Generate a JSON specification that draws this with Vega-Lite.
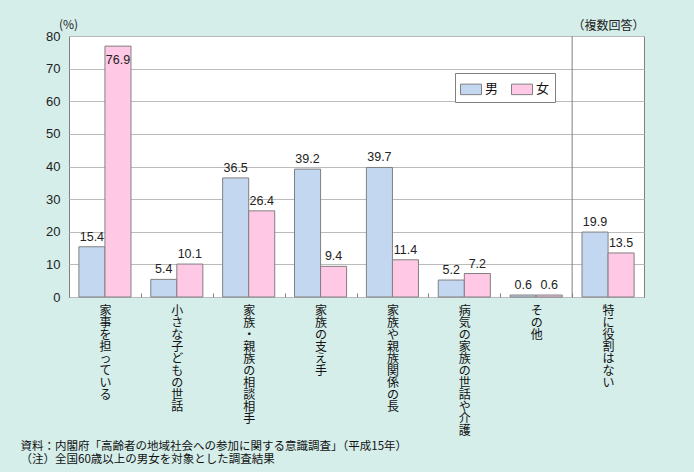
{
  "$schema": "https://vega.github.io/schema/vega-lite/v6.json",
  "width": 575,
  "height": 261,
  "autosize": {"type": "none"},
  "padding": {"left": 69, "top": 36, "right": 50, "bottom": 175},
  "background": "#d5eeea",
  "config": {
    "view": {"fill": "white", "stroke": "#808080"},
    "font": "Noto Sans CJK JP"
  },
  "title": {
    "text": "（複数回答）",
    "anchor": "end",
    "orient": "top",
    "offset": -15,
    "fontSize": 12,
    "fontWeight": "normal",
    "font": "Noto Sans CJK JP",
    "color": "#222222"
  },
  "data": {
    "values": [
      {"item": "家事を担っている", "sex": "男", "value": 15.4},
      {"item": "家事を担っている", "sex": "女", "value": 76.9},
      {"item": "小さな子どもの世話", "sex": "男", "value": 5.4},
      {"item": "小さな子どもの世話", "sex": "女", "value": 10.1},
      {"item": "家族・親族の相談相手", "sex": "男", "value": 36.5},
      {"item": "家族・親族の相談相手", "sex": "女", "value": 26.4},
      {"item": "家族の支え手", "sex": "男", "value": 39.2},
      {"item": "家族の支え手", "sex": "女", "value": 9.4},
      {"item": "家族や親族関係の長", "sex": "男", "value": 39.7},
      {"item": "家族や親族関係の長", "sex": "女", "value": 11.4},
      {"item": "病気の家族の世話や介護", "sex": "男", "value": 5.2},
      {"item": "病気の家族の世話や介護", "sex": "女", "value": 7.2},
      {"item": "その他", "sex": "男", "value": 0.6},
      {"item": "その他", "sex": "女", "value": 0.6},
      {"item": "特に役割はない", "sex": "男", "value": 19.9},
      {"item": "特に役割はない", "sex": "女", "value": 13.5}
    ]
  },
  "encoding": {
    "x": {
      "field": "item",
      "type": "nominal",
      "sort": null,
      "scale": {"paddingInner": 0, "paddingOuter": 0},
      "axis": {
        "title": ["資料：内閣府「高齢者の地域社会への参加に関する意識調査」（平成15年）", "（注）全国60歳以上の男女を対象とした調査結果"],
        "titleX": -49,
        "titleY": 143,
        "titleAlign": "left",
        "titleAnchor": "start",
        "titleBaseline": "top",
        "titleAngle": 0,
        "titleFontSize": 11.5,
        "titleFontWeight": "normal",
        "titleLineHeight": 13,
        "titleColor": "#111111",
        "labelExpr": "split(datum.label, '')",
        "labelAngle": 0,
        "labelAlign": "center",
        "labelBaseline": "top",
        "labelFontSize": 12,
        "labelLineHeight": 12,
        "labelPadding": 12,
        "labelColor": "#111111",
        "labelLimit": 0,
        "labelOverlap": false,
        "ticks": true,
        "tickSize": -4,
        "tickWidth": 1,
        "tickColor": "#808080",
        "tickBand": "extent",
        "domain": false,
        "grid": false
      }
    }
  },
  "layer": [
    {
      "mark": {"type": "bar", "stroke": "#808080", "strokeWidth": 1},
      "encoding": {
        "xOffset": {"field": "sex", "type": "nominal", "sort": ["男", "女"], "scale": {"paddingInner": 0, "paddingOuter": 0.38}},
        "y": {
          "field": "value",
          "type": "quantitative",
          "scale": {"domain": [0, 80]},
          "axis": {
            "title": "(%)",
            "titleAngle": 0,
            "titleX": -1,
            "titleY": -12,
            "titleAlign": "center",
            "titleBaseline": "middle",
            "titleFontSize": 12,
            "titleFontWeight": "normal",
            "titleColor": "#222222",
            "values": [0, 10, 20, 30, 40, 50, 60, 70, 80],
            "labelOverlap": false,
            "grid": true,
            "gridColor": "#bbbbbb",
            "domain": false,
            "ticks": false,
            "labelPadding": 9,
            "labelFontSize": 13,
            "labelFont": "Liberation Sans",
            "labelColor": "#222222"
          }
        },
        "fill": {
          "field": "sex",
          "type": "nominal",
          "scale": {"domain": ["男", "女"], "range": ["#c4d7f0", "#ffc8e4"]},
          "legend": {
            "orient": "none",
            "legendX": 386,
            "legendY": 37,
            "direction": "horizontal",
            "title": null,
            "strokeColor": "#808080",
            "fillColor": "white",
            "padding": 5,
            "symbolType": "M-1,-0.5H1V0.5H-1Z",
            "symbolSize": 441,
            "symbolStrokeColor": "#808080",
            "symbolStrokeWidth": 1,
            "symbolOpacity": 1,
            "labelFontSize": 13,
            "labelOffset": 3,
            "columnPadding": 10,
            "labelColor": "#111111"
          }
        }
      }
    },
    {
      "transform": [{"filter": "datum.value < 70"}],
      "mark": {"type": "text", "baseline": "bottom", "dy": -3, "font": "Liberation Sans", "fontSize": 12.5, "color": "#222222"},
      "encoding": {
        "xOffset": {"field": "sex", "type": "nominal", "sort": ["男", "女"], "scale": {"paddingInner": 0, "paddingOuter": 0.38}},
        "y": {
          "field": "value",
          "type": "quantitative",
          "scale": {"domain": [0, 80]},
          "axis": {
            "title": "(%)",
            "titleAngle": 0,
            "titleX": -1,
            "titleY": -12,
            "titleAlign": "center",
            "titleBaseline": "middle",
            "titleFontSize": 12,
            "titleFontWeight": "normal",
            "titleColor": "#222222",
            "values": [0, 10, 20, 30, 40, 50, 60, 70, 80],
            "labelOverlap": false,
            "grid": true,
            "gridColor": "#bbbbbb",
            "domain": false,
            "ticks": false,
            "labelPadding": 9,
            "labelFontSize": 13,
            "labelFont": "Liberation Sans",
            "labelColor": "#222222"
          }
        },
        "text": {"field": "value", "type": "quantitative", "format": ".1f"}
      }
    },
    {
      "transform": [{"filter": "datum.value >= 70"}],
      "mark": {"type": "text", "baseline": "top", "dy": 8, "font": "Liberation Sans", "fontSize": 12.5, "color": "#222222"},
      "encoding": {
        "xOffset": {"field": "sex", "type": "nominal", "sort": ["男", "女"], "scale": {"paddingInner": 0, "paddingOuter": 0.38}},
        "y": {
          "field": "value",
          "type": "quantitative",
          "scale": {"domain": [0, 80]},
          "axis": {
            "title": "(%)",
            "titleAngle": 0,
            "titleX": -1,
            "titleY": -12,
            "titleAlign": "center",
            "titleBaseline": "middle",
            "titleFontSize": 12,
            "titleFontWeight": "normal",
            "titleColor": "#222222",
            "values": [0, 10, 20, 30, 40, 50, 60, 70, 80],
            "labelOverlap": false,
            "grid": true,
            "gridColor": "#bbbbbb",
            "domain": false,
            "ticks": false,
            "labelPadding": 9,
            "labelFontSize": 13,
            "labelFont": "Liberation Sans",
            "labelColor": "#222222"
          }
        },
        "text": {"field": "value", "type": "quantitative", "format": ".1f"}
      }
    },
    {
      "data": {"values": [{"s": 1}]},
      "mark": {"type": "rule", "color": "#808080", "strokeWidth": 1},
      "encoding": {
        "x": {"datum": "特に役割はない", "bandPosition": 0}
      }
    }
  ]
}
